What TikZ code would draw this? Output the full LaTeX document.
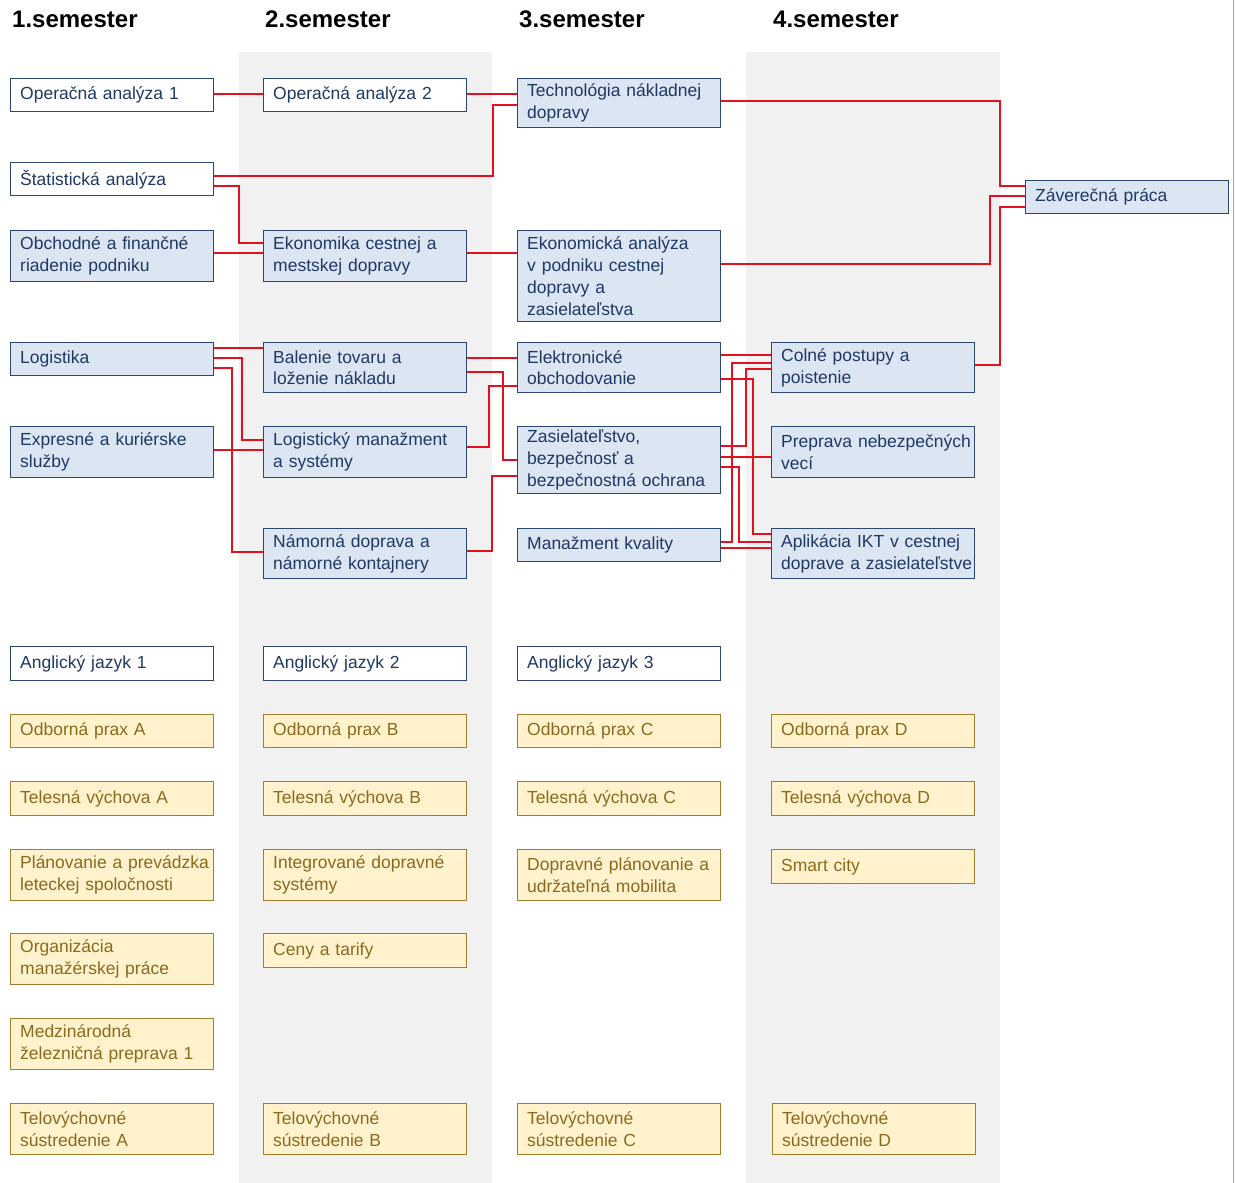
\documentclass[tikz,border=0pt]{standalone}
\usepackage{fontspec}
\setmainfont{Liberation Sans}
\definecolor{lblue}{HTML}{DCE6F2}
\definecolor{boxline}{HTML}{2B4770}
\definecolor{navy}{HTML}{1F3864}
\definecolor{lyel}{HTML}{FFF2CC}
\definecolor{yline}{HTML}{A07E2C}
\definecolor{ytext}{HTML}{8A6A1E}
\definecolor{lred}{HTML}{E3101F}
\definecolor{band}{HTML}{F1F1F1}
\tikzset{
  box/.style={draw=boxline, line width=1.4pt, anchor=north west, inner xsep=9.5pt, inner ysep=0pt,
    text width=184pt, align=left, font=\fontsize{17.5}{21.8}\selectfont, text=navy},
  bluebox/.style={box, fill=lblue},
  whitebox/.style={box, fill=white},
  yelbox/.style={box, fill=lyel, draw=yline, text=ytext},
  conn/.style={draw=lred, line width=2.2pt},
  head/.style={anchor=base west, inner sep=0pt, font=\fontsize{24}{28}\selectfont\bfseries}
}
\begin{document}
\begin{tikzpicture}[x=1pt, y=-1pt]
\useasboundingbox (0,0) rectangle (1235,1183);
\fill[white] (0,0) rectangle (1235,1183);
% bands
\fill[band] (239,52) rectangle (492,1183);
\fill[band] (746,52) rectangle (1000,1183);
\draw[gray!70, line width=1.5pt] (1233.5,0) -- (1233.5,1183);
% headers
\node[head] (h1) at (12,27.5) {1.semester};
\node[head] (h2) at (265,27.5) {2.semester};
\node[head] (h3) at (519,27.5) {3.semester};
\node[head] (h4) at (773,27.5) {4.semester};
% column 1
\node[whitebox, minimum height=33pt] (op1) at (10,78) {Operačná analýza 1};
\node[whitebox, minimum height=33pt] (stat) at (10,162) {Štatistická analýza};
\node[bluebox, minimum height=51pt] (obch) at (10,230) {Obchodné a finančné\\riadenie podniku};
\node[bluebox, minimum height=33pt] (log) at (10,342) {Logistika};
\node[bluebox, minimum height=51pt] (expr) at (10,426) {Expresné a kuriérske\\služby};
\node[whitebox, minimum height=34pt] (aj1) at (10,646) {Anglický jazyk 1};
\node[yelbox, minimum height=33pt] (opA) at (10,714) {Odborná prax A};
\node[yelbox, minimum height=34pt] (tvA) at (10,781) {Telesná výchova A};
\node[yelbox, minimum height=51pt] (plan) at (10,849) {\mbox{Plánovanie a prevádzka}\\leteckej spoločnosti};
\node[yelbox, minimum height=51pt] (org) at (10,933) {Organizácia\\manažérskej práce};
\node[yelbox, minimum height=51pt] (medz) at (10,1018) {Medzinárodná\\železničná preprava 1};
\node[yelbox, minimum height=51pt] (tsA) at (10,1103) {Telovýchovné\\sústredenie A};
% column 2
\node[whitebox, minimum height=33pt] (op2) at (263,78) {Operačná analýza 2};
\node[bluebox, minimum height=51pt] (ekon2) at (263,230) {Ekonomika cestnej a\\mestskej dopravy};
\node[bluebox, minimum height=50pt] (bal) at (263,342) {Balenie tovaru a\\loženie nákladu};
\node[bluebox, minimum height=51pt] (logm) at (263,426) {\mbox{Logistický manažment}\\a systémy};
\node[bluebox, minimum height=50pt] (nam) at (263,528) {Námorná doprava a\\námorné kontajnery};
\node[whitebox, minimum height=34pt] (aj2) at (263,646) {Anglický jazyk 2};
\node[yelbox, minimum height=33pt] (opB) at (263,714) {Odborná prax B};
\node[yelbox, minimum height=34pt] (tvB) at (263,781) {Telesná výchova B};
\node[yelbox, minimum height=51pt] (integ) at (263,849) {Integrované dopravné\\systémy};
\node[yelbox, minimum height=34pt] (ceny) at (263,933) {Ceny a tarify};
\node[yelbox, minimum height=51pt] (tsB) at (263,1103) {Telovýchovné\\sústredenie B};
% column 3
\node[bluebox, minimum height=49pt] (tech) at (517,78) {\mbox{Technológia nákladnej}\\dopravy};
\node[bluebox, minimum height=91pt] (ekon3) at (517,230) {Ekonomická analýza\\v podniku cestnej\\dopravy a\\zasielateľstva};
\node[bluebox, minimum height=50pt] (elek) at (517,342) {Elektronické\\obchodovanie};
\node[bluebox, minimum height=67pt] (zas) at (517,426) {Zasielateľstvo,\\bezpečnosť a\\\mbox{bezpečnostná ochrana}};
\node[bluebox, minimum height=33pt] (manaz) at (517,528) {Manažment kvality};
\node[whitebox, minimum height=34pt] (aj3) at (517,646) {Anglický jazyk 3};
\node[yelbox, minimum height=33pt] (opC) at (517,714) {Odborná prax C};
\node[yelbox, minimum height=34pt] (tvC) at (517,781) {Telesná výchova C};
\node[yelbox, minimum height=51pt] (dopl) at (517,849) {\mbox{Dopravné plánovanie a}\\udržateľná mobilita};
\node[yelbox, minimum height=51pt] (tsC) at (517,1103) {Telovýchovné\\sústredenie C};
% column 4
\node[bluebox, minimum height=50pt] (colne) at (771,342) {Colné postupy a\\poistenie};
\node[bluebox, minimum height=51pt] (prep) at (771,426) {\mbox{Preprava nebezpečných}\\vecí};
\node[bluebox, minimum height=50pt] (apl) at (771,528) {\mbox{Aplikácia IKT v cestnej}\\\mbox{doprave a zasielateľstve}};
\node[yelbox, minimum height=33pt] (opD) at (771,714) {Odborná prax D};
\node[yelbox, minimum height=34pt] (tvD) at (771,781) {Telesná výchova D};
\node[yelbox, minimum height=34pt] (smart) at (771,849) {Smart city};
\node[yelbox, minimum height=51pt] (tsD) at (772,1103) {Telovýchovné\\sústredenie D};
% final
\node[bluebox, minimum height=33pt] (zav) at (1025,180) {Záverečná práca};
% connectors
\draw[conn] (op1.east |- 0,94) -- (op2.west |- 0,94);
\draw[conn] (op2.east |- 0,94) -- (tech.west |- 0,94);
\draw[conn] (stat.east |- 0,176) -- (493,176) -- (493,105) -- (tech.west |- 0,105);
\draw[conn] (stat.east |- 0,186) -- (239,186) -- (239,243) -- (ekon2.west |- 0,243);
\draw[conn] (obch.east |- 0,253) -- (ekon2.west |- 0,253);
\draw[conn] (ekon2.east |- 0,253) -- (ekon3.west |- 0,253);
\draw[conn] (tech.east |- 0,101) -- (1000,101) -- (1000,186) -- (zav.west |- 0,186);
\draw[conn] (ekon3.east |- 0,264) -- (990,264) -- (990,196) -- (zav.west |- 0,196);
\draw[conn] (colne.east |- 0,365) -- (1000,365) -- (1000,207) -- (zav.west |- 0,207);
\draw[conn] (log.east |- 0,348) -- (bal.west |- 0,348);
\draw[conn] (log.east |- 0,358) -- (242,358) -- (242,440) -- (logm.west |- 0,440);
\draw[conn] (log.east |- 0,368) -- (232,368) -- (232,552) -- (nam.west |- 0,552);
\draw[conn] (expr.east |- 0,450) -- (logm.west |- 0,450);
\draw[conn] (bal.east |- 0,358) -- (elek.west |- 0,358);
\draw[conn] (bal.east |- 0,372) -- (503,372) -- (503,460) -- (zas.west |- 0,460);
\draw[conn] (logm.east |- 0,447) -- (489,447) -- (489,386) -- (elek.west |- 0,386);
\draw[conn] (nam.east |- 0,551) -- (492,551) -- (492,476) -- (zas.west |- 0,476);
\draw[conn] (elek.east |- 0,355) -- (colne.west |- 0,355);
\draw[conn] (manaz.east |- 0,542) -- (732,542) -- (732,363) -- (colne.west |- 0,363);
\draw[conn] (zas.east |- 0,446) -- (746,446) -- (746,369) -- (colne.west |- 0,369);
\draw[conn] (elek.east |- 0,379) -- (753,379) -- (753,534) -- (apl.west |- 0,534);
\draw[conn] (zas.east |- 0,457) -- (prep.west |- 0,457);
\draw[conn] (zas.east |- 0,467) -- (739,467) -- (739,542) -- (apl.west |- 0,542);
\draw[conn] (manaz.east |- 0,548) -- (apl.west |- 0,548);
\end{tikzpicture}
\end{document}
